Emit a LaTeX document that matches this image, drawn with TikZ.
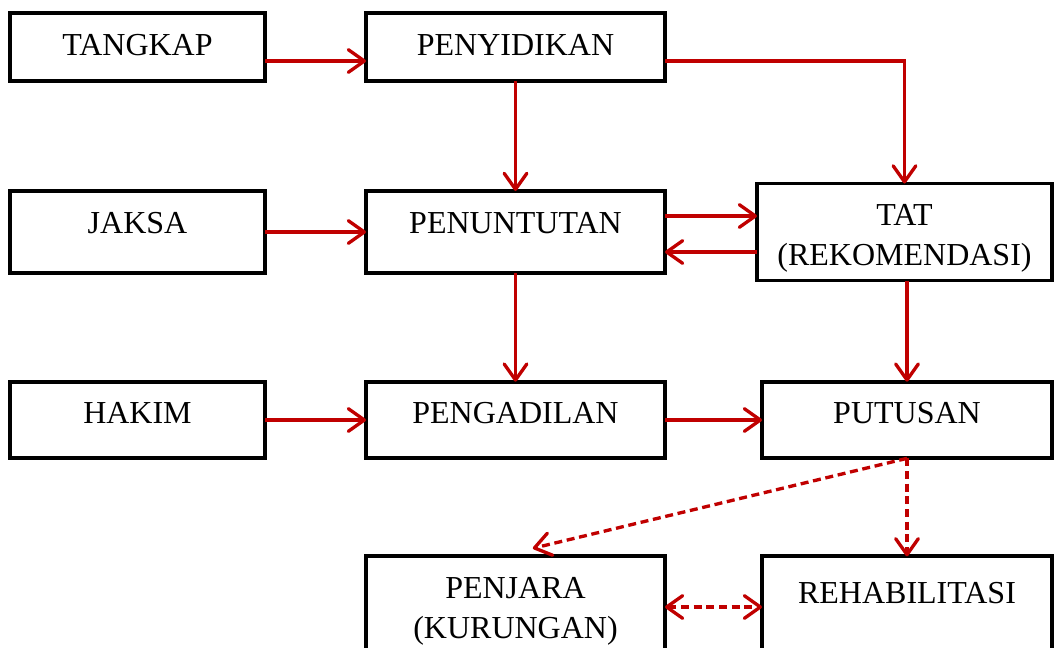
\documentclass[tikz,border=0pt]{standalone}
\usepackage{fontspec}
\setmainfont{Liberation Serif}
\usetikzlibrary{arrows.meta,positioning}
\definecolor{darkred}{HTML}{C00000}
\tikzset{
box/.style={
  rectangle,
  draw,
  line width=2.8pt,
  inner xsep=0pt,
  inner ysep=0pt,
  outer sep=0pt,
  text height=31.5pt,
  align=center,
  font=\fontsize{24pt}{30pt}\selectfont},
line/.style={draw, darkred, line width=2.5pt, ->},
dline/.style={line, dash pattern=on 6pt off 3.5pt}
}

\begin{document}
\begin{tikzpicture}[x=0.75pt,y=-0.75pt,>={Straight Barb[length=12pt,width=17pt,round]}]
    \clip (0,0) rectangle (1054,647);
    % kolom kiri
    \node [box, minimum width=191.25pt, text depth=19.5pt] (tangkap) at (137.5,47) {TANGKAP};
    \node [box, minimum width=191.25pt, text depth=30pt] (jaksa) at (137.5,232) {JAKSA};
    \node [box, minimum width=191.25pt, text depth=26pt] (hakim) at (137.5,420) {HAKIM};
    % kolom tengah
    \node [box, minimum width=224.25pt, text depth=19.5pt, right=75.75pt of tangkap] (penyidikan) {PENYIDIKAN};
    \node [box, minimum width=224.25pt, text depth=30pt, right=75.75pt of jaksa] (penuntutan) {PENUNTUTAN};
    \node [box, minimum width=224.25pt, text depth=26pt, right=75.75pt of hakim] (pengadilan) {PENGADILAN};
    \node [box, minimum width=224.25pt, text height=61.5pt, text depth=21pt, below=73.5pt of pengadilan] (penjara) {PENJARA\\(KURUNGAN)};
    % kolom kanan
    \node [box, minimum width=221.25pt, text height=61.5pt, text depth=11.25pt, right=69pt of penuntutan] (tat) {TAT\\(REKOMENDASI)};
    \node [box, minimum width=217.5pt, text depth=26pt, right=72.75pt of pengadilan] (putusan) {PUTUSAN};
    \node [box, minimum width=217.5pt, text height=35.25pt, text depth=47.25pt, below=73.5pt of putusan] (rehabilitasi) {REHABILITASI};
    \coordinate (pj) at ([xshift=13pt,yshift=6pt]penjara.north);
    \path [line] ([yshift=-10.5pt]tangkap.east) -- ([yshift=-10.5pt]penyidikan.west);
    \path [line] ([yshift=-10.5pt]penyidikan.east) -| (tat.north);
    \path [line] (penyidikan) -- (penuntutan);
    \path [line] (jaksa) -- (penuntutan);
    \path [line] ([yshift=12pt]penuntutan.east) -- ([yshift=12pt]tat.west);
    \path [line] ([yshift=-15pt]tat.west) -- ([yshift=-15pt]penuntutan.east);
    \path [line] (penuntutan) -- (pengadilan);
    \path [line] (tat.south -| putusan.north) -- (putusan.north);
    \path [line] (hakim) -- (pengadilan);
    \path [line] (pengadilan) -- (putusan);
    \path [dline] (putusan.south) -- (pj);
    \path [dline] (putusan.south) -- (rehabilitasi.north);
    \path [dline, <->] ([yshift=-38pt]penjara.north east) -- ([yshift=-38pt]rehabilitasi.north west);
\end{tikzpicture}
\end{document}
